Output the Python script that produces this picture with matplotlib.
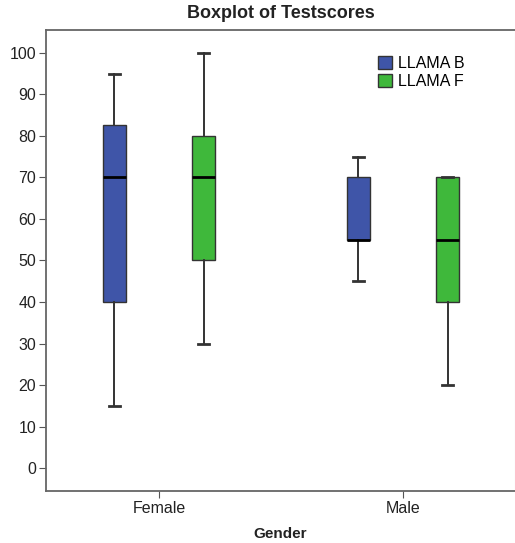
import matplotlib.pyplot as plt
from matplotlib.patches import Patch

plt.rcParams['font.family'] = ['Liberation Sans', 'DejaVu Sans']

# Testscores summary per gender and group
generos = ['Female', 'Male']
grupos = ['LLAMA B', 'LLAMA F']
cores = ['#3f55a8', '#3fb83b']

minimo = {'LLAMA B': [15, 45], 'LLAMA F': [30, 20]}
q1 = {'LLAMA B': [40, 55], 'LLAMA F': [50, 40]}
mediana = {'LLAMA B': [70, 55], 'LLAMA F': [70, 55]}
q3 = {'LLAMA B': [82.5, 70], 'LLAMA F': [80, 70]}
maximo = {'LLAMA B': [95, 75], 'LLAMA F': [100, 70]}

fig = plt.figure(figsize=(5.15, 5.43), dpi=100)
ax = fig.add_axes([0.0893, 0.0958, 0.9107, 0.849])

deslocamento = [-0.184, 0.184]
for g, grupo in enumerate(grupos):
    stats = []
    for i in range(len(generos)):
        stats.append({
            'whislo': minimo[grupo][i], 'q1': q1[grupo][i], 'med': mediana[grupo][i],
            'q3': q3[grupo][i], 'whishi': maximo[grupo][i], 'fliers': [],
        })
    pos = [i + deslocamento[g] for i in range(len(generos))]
    ax.bxp(stats, positions=pos, widths=0.094, patch_artist=True, showfliers=False,
           boxprops=dict(facecolor=cores[g], edgecolor='#333333', linewidth=1.0),
           medianprops=dict(color='black', linewidth=2.0),
           whiskerprops=dict(color='#333333', linewidth=1.4),
           capprops=dict(color='#333333', linewidth=2.0),
           capwidths=0.045, manage_ticks=False)

ax.set_xlim(-0.463, 1.459)
ax.set_ylim(-5.5, 105.5)
ax.set_xticks(range(len(generos)))
ax.set_xticklabels(generos, fontsize=11.5, color='#222222')
ax.set_yticks(range(0, 101, 10))
ax.tick_params(axis='y', labelsize=11.5, labelcolor='#222222', length=5, color='#555555', pad=2)
ax.tick_params(axis='x', length=5, color='#555555', pad=2)
for lado in ['left', 'bottom', 'top']:
    ax.spines[lado].set_color('#666666')
    ax.spines[lado].set_linewidth(1.3)
ax.spines['right'].set_color('#dddddd')

ax.set_xlabel('Gender', fontsize=11, fontweight='bold', color='#222222', labelpad=8)
fig.suptitle('Boxplot of Testscores', x=0.545, y=0.99, fontsize=13, fontweight='bold',
             color='#222222', va='top')

handles = [Patch(facecolor=c, edgecolor='#333333', label=n) for c, n in zip(cores, grupos)]
ax.legend(handles=handles, loc='upper left', bbox_to_anchor=(0.685, 0.968), frameon=False,
          fontsize=11.5, handlelength=0.85, handleheight=0.85, handletextpad=0.35,
          labelspacing=0.2, borderpad=0.2)

fig.savefig('out.png', dpi=100)
